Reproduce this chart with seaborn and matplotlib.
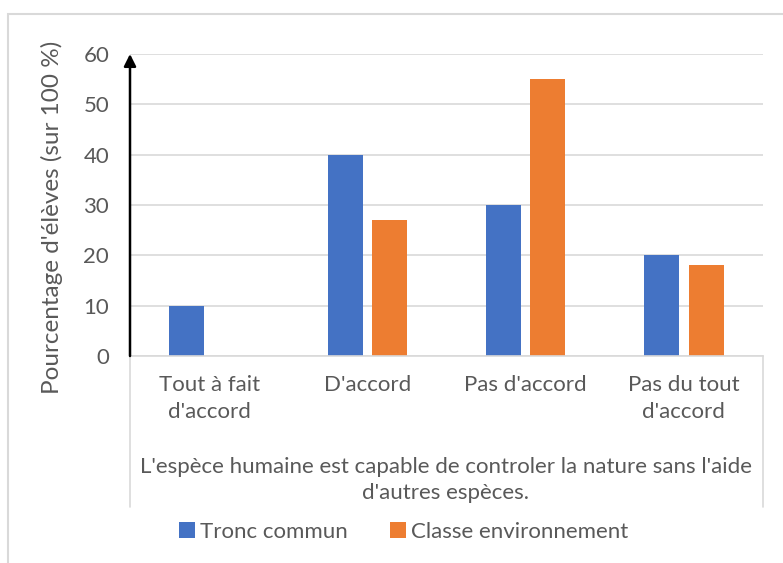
import pandas as pd
import seaborn as sns
import matplotlib.pyplot as plt
from matplotlib.patches import Rectangle
from matplotlib.lines import Line2D

categories = ["Tout à fait\nd'accord", "D'accord", "Pas d'accord", "Pas du tout\nd'accord"]
tronc_commun = [10, 40, 30, 20]
classe_env = [0, 27, 55, 18]
series_names = ["Tronc commun", "Classe environnement"]
colors = ["#4472C4", "#ED7D31"]
group_label = "L'espèce humaine est capable de controler la nature sans l'aide\nd'autres espèces."
y_label = "Pourcentage d'élèves (sur 100 %)"

df = pd.DataFrame({
    "categorie": categories * 2,
    "serie": [series_names[0]] * 4 + [series_names[1]] * 4,
    "valeur": tronc_commun + classe_env,
})

sns.set_style("white")
plt.rcParams['font.family'] = ['Lato', 'DejaVu Sans']
txt = "#595959"
fs = 16

fig = plt.figure(figsize=(7.83, 5.63), dpi=100)
ax = fig.add_axes([130 / 783, 1 - 356 / 563, (763 - 130) / 783, (356 - 54) / 563])

sns.barplot(data=df, x="categorie", y="valeur", hue="serie", palette=colors,
            width=0.56, gap=0.21, saturation=1, linewidth=0, ax=ax)

ax.set_ylim(0, 60)
ax.set_xlim(-0.5, 3.5)
ax.set_yticks(range(0, 61, 10))
ax.yaxis.grid(True, color="#d9d9d9", linewidth=1.2)
ax.set_axisbelow(True)
for s in ["top", "right", "left"]:
    ax.spines[s].set_visible(False)
ax.spines["bottom"].set_color("#d9d9d9")
ax.spines["bottom"].set_linewidth(1.2)
ax.tick_params(axis="y", length=0, pad=15, labelsize=fs, labelcolor=txt)
ax.tick_params(axis="x", length=0, pad=14, labelsize=fs, labelcolor=txt)
for lab in ax.get_xticklabels():
    lab.set_linespacing(1.4)
ax.set_xlabel("")
ax.set_ylabel("")

# fleche sur l'axe des y
ax.annotate("", xy=(0, 1.0), xytext=(0, 0), xycoords="axes fraction",
            arrowprops=dict(arrowstyle="-|>", color="black", lw=1.8, mutation_scale=18,
                            shrinkA=0, shrinkB=0))

# separateurs de l'axe multi-niveaux
for x in [0, 1]:
    ax.add_line(Line2D([x, x], [0, -(507 - 356) / 302], transform=ax.transAxes,
                       color="#d9d9d9", lw=1.2, clip_on=False))

fig.text(446 / 783, 1 - 480 / 563, group_label, ha="center", va="center",
         fontsize=fs, color=txt, linespacing=1.4)
fig.text(52 / 783, 1 - 217 / 563, y_label, rotation=90, ha="center", va="center",
         fontsize=17.5, color=txt)

sns.move_legend(ax, "center", bbox_to_anchor=(404 / 783, 1 - 532 / 563),
                bbox_transform=fig.transFigure, ncol=2, frameon=False, title=None,
                fontsize=fs, handlelength=0.7, handleheight=0.7, handletextpad=0.25,
                columnspacing=1.9)
for t in ax.get_legend().get_texts():
    t.set_color(txt)

# cadre du graphique
fig.patches.append(Rectangle((8 / 783, -0.1), 1.0, 1 - 14 / 563 + 0.1, transform=fig.transFigure,
                             fill=False, edgecolor="#d9d9d9", lw=1.5))

fig.savefig("out.png", dpi=100)
